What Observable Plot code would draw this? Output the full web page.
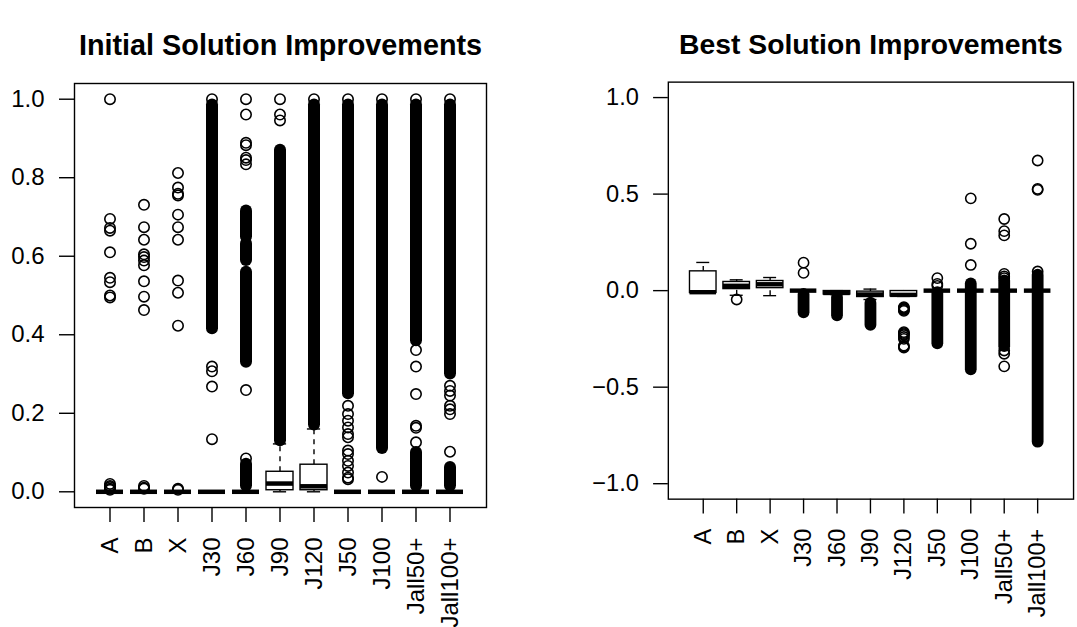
<!DOCTYPE html>
<html>
<head>
<meta charset="utf-8">
<script src="https://cdn.jsdelivr.net/npm/d3@7"></script>
<script src="https://cdn.jsdelivr.net/npm/@observablehq/plot@0.6"></script>
<style>
  html, body { margin: 0; padding: 0; background: #fff; }
  #page { position: relative; width: 1077px; height: 627px; overflow: hidden; }
  #left { position: absolute; left: 0; top: 0; }
  #right { position: absolute; left: 538px; top: 0; }
  svg { font-family: "Liberation Sans", Arial, sans-serif; }
</style>
</head>
<body>
<div id="page"><div id="left"></div><div id="right"></div></div>
<script>
// Instance groups, in plotting order
const categories = ["A", "B", "X", "J30", "J60", "J90", "J120", "J50", "J100", "Jall50+", "Jall100+"];

// Initial solution improvements: whisker ends, quartiles and medians
const initLow    = [0, 0, 0, 0, 0, 0,     0,     0, 0, 0, 0];
const initQ1     = [0, 0, 0, 0, 0, 0.004, 0.004, 0, 0, 0, 0];
const initMedian = [0, 0, 0, 0, 0, 0.021, 0.014, 0, 0, 0, 0];
const initQ3     = [0, 0, 0, 0, 0, 0.051, 0.069, 0, 0, 0, 0];
const initHigh   = [0, 0, 0, 0, 0, 0.122, 0.160, 0, 0, 0, 0];
// Individual outliers
const initOutliers = [
  [1.0, 0.695, 0.672, 0.665, 0.61, 0.545, 0.534, 0.5, 0.495, 0.02, 0.015, 0.012, 0.008, 0.005],
  [0.731, 0.674, 0.642, 0.605, 0.598, 0.589, 0.577, 0.536, 0.497, 0.463, 0.015, 0.01, 0.008],
  [0.812, 0.775, 0.759, 0.755, 0.706, 0.674, 0.642, 0.538, 0.507, 0.423, 0.008, 0.005],
  [1.0, 0.319, 0.307, 0.268, 0.134],
  [1.0, 0.961, 0.889, 0.883, 0.851, 0.845, 0.834, 0.259, 0.085],
  [1.0, 0.961, 0.946],
  [1.0],
  [1.0, 0.219, 0.198, 0.181, 0.164, 0.147, 0.139, 0.105, 0.096, 0.079, 0.066, 0.049, 0.036, 0.032],
  [1.0, 0.038],
  [1.0, 0.361, 0.319, 0.249, 0.168, 0.163, 0.126],
  [1.0, 0.27, 0.257, 0.245, 0.219, 0.21, 0.198, 0.102]
];
// Ranges where outliers are packed so densely they merge into a column
const initDense = [
  [], [], [],
  [[0.415, 0.985]],
  [[0.649, 0.715], [0.589, 0.632], [0.33, 0.559], [0.015, 0.07]],
  [[0.13, 0.87]],
  [[0.17, 0.985]],
  [[0.25, 0.985]],
  [[0.11, 0.985]],
  [[0.385, 0.985], [0.015, 0.10]],
  [[0.30, 0.985], [0.015, 0.062]]
];

// Best solution improvements
const bestLow    = [-0.012, -0.024, -0.026, 0, -0.02,  -0.046, -0.03,  0, 0, 0, 0];
const bestQ1     = [-0.012,  0.008,  0.013, 0, -0.02,  -0.033, -0.03,  0, 0, 0, 0];
const bestMedian = [-0.008,  0.025,  0.033, 0, -0.012, -0.02,  -0.022, 0, 0, 0, 0];
const bestQ3     = [ 0.1,    0.045,  0.05,  0, -0.002, -0.005, -0.002, 0, 0, 0, 0];
const bestHigh   = [ 0.146,  0.056,  0.068, 0,  0,      0.008, -0.002, 0, 0, 0, 0];
const bestOutliers = [
  [],
  [-0.046],
  [],
  [0.145, 0.092],
  [],
  [],
  [-0.085, -0.09, -0.095, -0.1, -0.105, -0.215, -0.22, -0.225, -0.23, -0.24, -0.25, -0.285, -0.29, -0.295],
  [0.065, 0.035, 0.025],
  [0.478, 0.243, 0.133],
  [0.371, 0.308, 0.286, 0.087, 0.074, 0.065, -0.31, -0.327, -0.392],
  [0.674, 0.527, 0.522, 0.099]
];
const bestDense = [
  [], [], [],
  [[-0.115, -0.02]],
  [[-0.13, -0.035]],
  [[-0.18, -0.065]],
  [],
  [[-0.275, -0.01]],
  [[-0.41, 0.035]],
  [[-0.29, 0.05]],
  [[-0.785, 0.08]]
];

const fmt = d3.format(".1f");

function boxPanel({title, low, q1, median, q3, high, outliers, dense, yDomain, yTicks, width, marginLeft, marginRight}) {
  const boxes = categories.map((cat, i) => ({cat, low: low[i], q1: q1[i], median: median[i], q3: q3[i], high: high[i]}));
  const points = categories.flatMap((cat, i) => outliers[i].map(v => ({cat, v})));
  const runs = categories.flatMap((cat, i) => dense[i].map(([lo, hi]) => ({cat, lo, hi})));
  const lw = 1.4;
  return Plot.plot({
    width, height: 627,
    marginTop: 83, marginBottom: 120, marginLeft, marginRight,
    style: {fontFamily: "'Liberation Sans', Arial, sans-serif", fontSize: "24px", color: "black", background: "white", overflow: "visible"},
    x: {type: "band", domain: categories, paddingInner: 0.2, paddingOuter: 0.54, axis: null},
    y: {domain: yDomain, axis: null},
    marks: [
      Plot.axisY({ticks: yTicks, tickSize: 15, tickPadding: 15, tickFormat: fmt, label: null, strokeWidth: lw, fontSize: 24}),
      Plot.axisX({tickSize: 15, tickPadding: 15, tickRotate: -90, label: null, strokeWidth: lw, fontSize: 24}),
      // whiskers
      Plot.ruleX(boxes, {x: "cat", y1: "q3", y2: "high", stroke: "black", strokeWidth: lw, strokeDasharray: "5,5"}),
      Plot.ruleX(boxes, {x: "cat", y1: "low", y2: "q1", stroke: "black", strokeWidth: lw, strokeDasharray: "5,5"}),
      // staples
      Plot.tickY(boxes, {x: "cat", y: "high", stroke: "black", strokeWidth: lw, insetLeft: 6.9, insetRight: 6.9}),
      Plot.tickY(boxes, {x: "cat", y: "low", stroke: "black", strokeWidth: lw, insetLeft: 6.9, insetRight: 6.9}),
      // boxes and medians
      Plot.barY(boxes, {x: "cat", y1: "q1", y2: "q3", fill: "white", stroke: "black", strokeWidth: lw}),
      Plot.tickY(boxes, {x: "cat", y: "median", stroke: "black", strokeWidth: 4.5}),
      // outliers
      Plot.ruleX(runs, {x: "cat", y1: "lo", y2: "hi", stroke: "black", strokeWidth: 12, strokeLinecap: "round"}),
      Plot.dot(points, {x: "cat", y: "v", r: 5.2, stroke: "black", strokeWidth: 1.6}),
      Plot.frame({stroke: "black", strokeWidth: lw}),
      Plot.text([title], {text: d => d, frameAnchor: "top", lineAnchor: "middle", dy: -38, fontSize: 28.8, fontWeight: "bold", fill: "black"})
    ]
  });
}

document.getElementById("left").append(boxPanel({
  title: "Initial Solution Improvements",
  low: initLow, q1: initQ1, median: initMedian, q3: initQ3, high: initHigh,
  outliers: initOutliers, dense: initDense,
  yDomain: [-0.04, 1.04], yTicks: [0, 0.2, 0.4, 0.6, 0.8, 1.0],
  width: 538, marginLeft: 74, marginRight: 52
}));

document.getElementById("right").append(boxPanel({
  title: "Best Solution Improvements",
  low: bestLow, q1: bestQ1, median: bestMedian, q3: bestQ3, high: bestHigh,
  outliers: bestOutliers, dense: bestDense,
  yDomain: [-1.08, 1.08], yTicks: [-1, -0.5, 0, 0.5, 1],
  width: 548, marginLeft: 132, marginRight: 4
}));
</script>
</body>
</html>
